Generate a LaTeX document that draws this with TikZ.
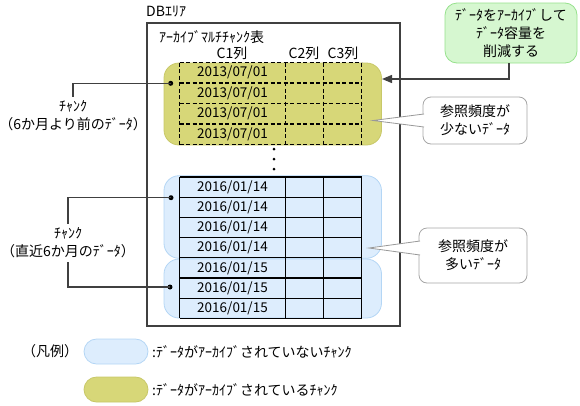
\documentclass[tikz,border=0pt]{standalone}
\usepackage{fontspec}
\setmainfont{Noto Sans CJK JP}
\usetikzlibrary{arrows.meta}
\definecolor{oliveF}{RGB}{215,215,120}
\definecolor{oliveD}{RGB}{200,200,105}
\definecolor{blueF}{RGB}{221,237,253}
\definecolor{blueD}{RGB}{180,214,245}
\definecolor{greenF}{RGB}{214,247,208}
\definecolor{greenD}{RGB}{150,225,140}
\newcommand\jf{\fontsize{14}{18}\selectfont}
\newcommand\df{\fontsize{13.5}{18}\selectfont}
\begin{document}
\begin{tikzpicture}[x=1pt,y=-1pt,
  txt/.style={font=\jf, inner sep=0pt, align=center},
  dtxt/.style={font=\df, inner sep=0pt},
  chunkA/.style={fill=oliveF, draw=oliveD, line width=0.8pt, rounded corners=15pt},
  chunkB/.style={fill=blueF, draw=blueD, line width=0.8pt, rounded corners=15pt},
  dotn/.style={circle, fill=black, inner sep=0pt, minimum size=5pt},
  conn/.style={draw=black!75, line width=1.3pt},
  callout/.style={draw=black!35, fill=white, line width=0.8pt, rounded corners=8pt, font=\jf, align=center},
  ptr/.style={draw=black!40, line width=0.8pt},
  tbl/.style={draw=black, line width=1.1pt},
  tbld/.style={draw=black, line width=1.2pt, dash pattern=on 4pt off 2.5pt}]
\useasboundingbox (0,0) rectangle (580,405);
% DB area
\draw[draw=black!75, line width=1.2pt] (147,23) rectangle (400,326);
\node[txt, anchor=west] (dbl) at (146,12) {DBｴﾘｱ};
\node[txt, anchor=west] (tbll) at (159,37) {ｱｰｶｲﾌﾞﾏﾙﾁﾁｬﾝｸ表};
\node[txt] (c1) at (232,53) {C1列};
\node[txt] (c2) at (304,53) {C2列};
\node[txt] (c3) at (343,53) {C3列};
% archived chunk
\draw[chunkA] (164,63) rectangle (381.5,145);
\foreach \y in {62.5,83,103.5,124,144.5}
  \draw[tbld] (179.5,\y) -- (361.5,\y);
\foreach \x in {179.5,285.5,323.5,361.5}
  \draw[tbld] (\x,62.5) -- (\x,144.5);
\foreach \y [count=\i] in {72.75,93.25,113.75,134.25}
  \node[dtxt] (da\i) at (232.5,\y) {2013/07/01};
% dots between
\foreach \y [count=\i] in {149,159,169}
  \node[circle, fill=black, inner sep=0pt, minimum size=3pt] (vd\i) at (274,\y) {};
% non-archived chunks
\draw[chunkB] (164,175.7) rectangle (381.5,258.3);
\draw[chunkB] (164,259) rectangle (381.5,318);
\foreach \y in {177,197.2,217.4,237.6,257.8,278,298.2,318.4}
  \draw[tbl] (179.5,\y) -- (361.5,\y);
\foreach \x in {179.5,285.5,323.5,361.5}
  \draw[tbl] (\x,177) -- (\x,318.4);
\foreach \y [count=\i] in {187.1,207.3,227.5,247.7}
  \node[dtxt] (db\i) at (232.5,\y) {2016/01/14};
\foreach \y [count=\i] in {267.9,288.1,308.3}
  \node[dtxt] (dc\i) at (232.5,\y) {2016/01/15};
% chunk dots
\node[dotn] (pa) at (170.7,83.3) {};
\node[dotn] (pb) at (171,197.7) {};
\node[dotn] (pc) at (170,287) {};
% chunk labels
\node[txt, inner ysep=4pt] (la) at (73,116) {ﾁｬﾝｸ\\（6か月より前のﾃﾞｰﾀ）};
\node[txt, inner ysep=4pt] (lb) at (68,243) {ﾁｬﾝｸ\\（直近6か月のﾃﾞｰﾀ）};
\draw[conn] (pa.center) -| (la.north);
\draw[conn] (pb.center) -| (lb.north);
\draw[conn] (lb.south) |- (pc.center);
% green box and arrow
\node[draw=greenD, fill=greenF, line width=0.8pt, rounded corners=12pt, font=\jf, align=center,
      minimum width=132pt, minimum height=60pt, inner sep=0pt] (gb) at (511,33)
      {ﾃﾞｰﾀをｱｰｶｲﾌﾞして\\ﾃﾞｰﾀ容量を\\削減する};
\coordinate (tip) at (382,79);
\draw[conn, -{Triangle[length=10pt,width=8pt]}] ([xshift=-2pt]gb.south) |- (tip);
% callouts
\node[callout, minimum width=104pt, minimum height=47pt, inner sep=0pt] (ca) at (475,120.5) {参照頻度が\\少ないﾃﾞｰﾀ};
\coordinate (ta) at (373,120.5);
\fill[white] (ta) -- (424.5,114) -- (424.5,127) -- cycle;
\draw[ptr] (424,114) -- (ta) -- (424,127);
\node[callout, minimum width=108pt, minimum height=55pt, inner sep=0pt] (cb) at (473,255.5) {参照頻度が\\多いﾃﾞｰﾀ};
\coordinate (tb) at (369,248);
\fill[white] (tb) -- (420.5,241) -- (420.5,255) -- cycle;
\draw[ptr] (420,241) -- (tb) -- (420,255);
% legend
\node[txt] (lg) at (50,351) {（凡例）};
\node[chunkB, rounded corners=12.5pt, minimum width=64pt, minimum height=25pt, inner sep=0pt] (lgb) at (116,351.5) {};
\node[chunkA, rounded corners=12.5pt, minimum width=64pt, minimum height=25pt, inner sep=0pt] (lga) at (116,389.5) {};
\node[txt, anchor=west] (lgbt) at (152,352) {:ﾃﾞｰﾀがｱｰｶｲﾌﾞされていないﾁｬﾝｸ};
\node[txt, anchor=west] (lgat) at (152,390) {:ﾃﾞｰﾀがｱｰｶｲﾌﾞされているﾁｬﾝｸ};
\end{tikzpicture}
\end{document}
